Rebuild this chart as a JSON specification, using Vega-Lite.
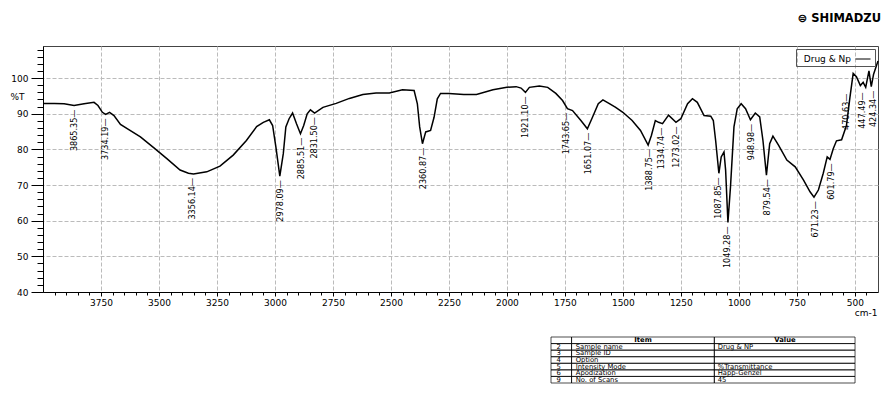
{
  "$schema": "https://vega.github.io/schema/vega-lite/v6.json",
  "background": "white",
  "padding": {"left": 9, "top": 12, "right": 0, "bottom": 0},
  "spacing": 18,
  "config": {
    "axis": {"labelFont": "DejaVu Sans", "labelFontSize": 9, "titleFont": "DejaVu Sans", "labelColor": "black", "domainColor": "black", "tickColor": "black", "titleColor": "black", "labelOverlap": false},
    "view": {"stroke": "#444"}
  },
  "datasets": {
    "spectrum": [
      {"wn": 3998, "T": 92.9}, {"wn": 3951, "T": 92.9}, {"wn": 3909, "T": 92.8}, {"wn": 3866, "T": 92.3},
      {"wn": 3823, "T": 92.8}, {"wn": 3780, "T": 93.2}, {"wn": 3763, "T": 92.3}, {"wn": 3744, "T": 90.4},
      {"wn": 3730, "T": 89.8}, {"wn": 3713, "T": 90.4}, {"wn": 3694, "T": 89.5}, {"wn": 3666, "T": 87.0},
      {"wn": 3637, "T": 85.8}, {"wn": 3580, "T": 83.5}, {"wn": 3523, "T": 80.5}, {"wn": 3466, "T": 77.4},
      {"wn": 3409, "T": 74.2}, {"wn": 3373, "T": 73.3}, {"wn": 3351, "T": 73.1}, {"wn": 3294, "T": 73.7},
      {"wn": 3237, "T": 75.3}, {"wn": 3180, "T": 78.4}, {"wn": 3123, "T": 82.5}, {"wn": 3079, "T": 86.4},
      {"wn": 3050, "T": 87.6}, {"wn": 3024, "T": 88.3}, {"wn": 3010, "T": 86.7}, {"wn": 2996, "T": 80.7},
      {"wn": 2979, "T": 72.5}, {"wn": 2964, "T": 78.8}, {"wn": 2953, "T": 86.3}, {"wn": 2939, "T": 88.6},
      {"wn": 2924, "T": 90.2}, {"wn": 2907, "T": 87.2}, {"wn": 2890, "T": 84.4}, {"wn": 2876, "T": 86.7},
      {"wn": 2861, "T": 90.0}, {"wn": 2847, "T": 91.1}, {"wn": 2829, "T": 90.2}, {"wn": 2793, "T": 91.8},
      {"wn": 2736, "T": 92.9}, {"wn": 2679, "T": 94.3}, {"wn": 2621, "T": 95.4}, {"wn": 2564, "T": 95.8},
      {"wn": 2507, "T": 95.8}, {"wn": 2450, "T": 96.7}, {"wn": 2400, "T": 96.5}, {"wn": 2386, "T": 92.8},
      {"wn": 2376, "T": 86.3}, {"wn": 2364, "T": 81.6}, {"wn": 2350, "T": 84.9}, {"wn": 2329, "T": 85.3},
      {"wn": 2314, "T": 89.0}, {"wn": 2300, "T": 94.2}, {"wn": 2286, "T": 95.7}, {"wn": 2250, "T": 95.7},
      {"wn": 2186, "T": 95.4}, {"wn": 2131, "T": 95.4}, {"wn": 2060, "T": 96.7}, {"wn": 2000, "T": 97.4},
      {"wn": 1960, "T": 97.6}, {"wn": 1939, "T": 97.2}, {"wn": 1920, "T": 96.0}, {"wn": 1903, "T": 97.4},
      {"wn": 1860, "T": 97.8}, {"wn": 1824, "T": 97.4}, {"wn": 1789, "T": 95.7}, {"wn": 1760, "T": 93.7},
      {"wn": 1739, "T": 91.4}, {"wn": 1717, "T": 90.9}, {"wn": 1681, "T": 88.1}, {"wn": 1653, "T": 85.8},
      {"wn": 1631, "T": 89.0}, {"wn": 1606, "T": 92.8}, {"wn": 1586, "T": 93.9}, {"wn": 1560, "T": 92.9},
      {"wn": 1531, "T": 91.8}, {"wn": 1500, "T": 90.4}, {"wn": 1460, "T": 88.1}, {"wn": 1424, "T": 85.3},
      {"wn": 1391, "T": 81.2}, {"wn": 1377, "T": 83.9}, {"wn": 1360, "T": 88.1}, {"wn": 1346, "T": 87.6},
      {"wn": 1329, "T": 87.2}, {"wn": 1303, "T": 89.6}, {"wn": 1271, "T": 87.6}, {"wn": 1250, "T": 88.6},
      {"wn": 1221, "T": 92.8}, {"wn": 1200, "T": 94.2}, {"wn": 1179, "T": 93.2}, {"wn": 1150, "T": 89.5},
      {"wn": 1121, "T": 89.3}, {"wn": 1110, "T": 88.1}, {"wn": 1100, "T": 82.5}, {"wn": 1086, "T": 73.3},
      {"wn": 1076, "T": 77.9}, {"wn": 1064, "T": 79.3}, {"wn": 1057, "T": 74.2}, {"wn": 1047, "T": 59.5},
      {"wn": 1036, "T": 69.5}, {"wn": 1021, "T": 86.3}, {"wn": 1007, "T": 91.4}, {"wn": 990, "T": 92.8},
      {"wn": 971, "T": 91.4}, {"wn": 950, "T": 88.3}, {"wn": 929, "T": 90.2}, {"wn": 910, "T": 89.1},
      {"wn": 896, "T": 82.5}, {"wn": 881, "T": 72.8}, {"wn": 867, "T": 81.6}, {"wn": 853, "T": 83.7},
      {"wn": 829, "T": 81.2}, {"wn": 793, "T": 77.0}, {"wn": 757, "T": 75.1}, {"wn": 721, "T": 71.4},
      {"wn": 693, "T": 68.1}, {"wn": 676, "T": 66.6}, {"wn": 657, "T": 68.6}, {"wn": 636, "T": 73.3},
      {"wn": 619, "T": 77.9}, {"wn": 607, "T": 77.2}, {"wn": 593, "T": 80.2}, {"wn": 579, "T": 82.4},
      {"wn": 557, "T": 82.7}, {"wn": 536, "T": 86.7}, {"wn": 521, "T": 94.6}, {"wn": 507, "T": 101.3},
      {"wn": 493, "T": 100.4}, {"wn": 476, "T": 97.9}, {"wn": 464, "T": 98.8}, {"wn": 453, "T": 97.4},
      {"wn": 439, "T": 102.0}, {"wn": 429, "T": 97.6}, {"wn": 419, "T": 101.1}, {"wn": 400, "T": 104.8}
    ],
    "peaks": [
      {"wn": 3865.35, "T": 92.3}, {"wn": 3734.19, "T": 89.8}, {"wn": 3356.14, "T": 73.1},
      {"wn": 2978.09, "T": 72.5}, {"wn": 2885.51, "T": 84.4}, {"wn": 2831.50, "T": 90.2},
      {"wn": 2360.87, "T": 81.6}, {"wn": 1921.10, "T": 96.0}, {"wn": 1743.65, "T": 91.4},
      {"wn": 1651.07, "T": 85.8}, {"wn": 1388.75, "T": 81.2}, {"wn": 1334.74, "T": 87.2},
      {"wn": 1273.02, "T": 87.6}, {"wn": 1087.85, "T": 73.3}, {"wn": 1049.28, "T": 59.5},
      {"wn": 948.98, "T": 88.3}, {"wn": 879.54, "T": 72.8}, {"wn": 671.23, "T": 66.6},
      {"wn": 601.79, "T": 77.2}, {"wn": 470.63, "T": 97.9}, {"wn": 447.49, "T": 97.4},
      {"wn": 424.34, "T": 97.6}
    ],
    "table": [
      {"n": "", "item": "Item", "value": "Value"},
      {"n": "2", "item": "Sample name", "value": "Drug & NP"},
      {"n": "3", "item": "Sample ID", "value": ""},
      {"n": "4", "item": "Option", "value": ""},
      {"n": "5", "item": "Intensity Mode", "value": "%Transmittance"},
      {"n": "6", "item": "Apodization", "value": "Happ-Genzel"},
      {"n": "9", "item": "No. of Scans", "value": "45"}
    ]
  },
  "vconcat": [
    {
      "width": 835,
      "height": 246,
      "title": {"text": "⊜ SHIMADZU", "anchor": "end", "fontSize": 11.5, "fontWeight": "bold", "font": "DejaVu Sans", "offset": 22, "color": "black"},
      "resolve": {"axis": {"x": "independent", "y": "independent"}},
      "layer": [
        {
          "data": {"name": "spectrum"},
          "mark": {"type": "line", "color": "black", "strokeWidth": 1.5},
          "encoding": {
            "x": {
              "field": "wn", "type": "quantitative",
              "scale": {"domain": [400, 4000], "reverse": true, "nice": false, "zero": false},
              "axis": {
                "orient": "bottom",
                "values": [500,750,1000,1250,1500,1750,2000,2250,2500,2750,3000,3250,3500,3750],
                "format": "d",
                "tickSize": 4,
                "labelPadding": 2,
                "grid": true,
                "gridDash": [4, 2],
                "gridColor": "#bbbbbb",
                "title": "cm-1",
                "titleFontSize": 9,
                "titleFontWeight": "normal",
                "titleX": 834,
                "titleY": 20,
                "titleAlign": "right",
                "titleBaseline": "middle"
              }
            },
            "y": {
              "field": "T", "type": "quantitative",
              "scale": {"domain": [40, 109], "nice": false, "zero": false},
              "axis": {
                "orient": "left",
                "values": [40,50,60,70,80,90,100],
                "tickSize": 12,
                "labelPadding": 3,
                "grid": true,
                "gridDash": [4, 2],
                "gridColor": "#bbbbbb",
                "title": "%T",
                "titleAngle": 0,
                "titleX": -33,
                "titleY": 50,
                "titleAlign": "left",
                "titleBaseline": "middle",
                "titleFontSize": 9,
                "titleFontWeight": "normal"
              }
            },
            "color": {
              "datum": "Drug & Np",
              "scale": {"range": ["black"]},
              "legend": {
                "title": null, "orient": "top-right", "offset": 3,
                "symbolType": "stroke", "symbolSize": 225, "symbolStrokeWidth": 1,
                "symbolOffset": 57, "labelOffset": -20, "labelAlign": "right",
                "labelFont": "DejaVu Sans", "labelFontSize": 9, "labelColor": "black",
                "strokeColor": "#555", "padding": 2
              }
            }
          }
        },
        {
          "mark": {"type": "rule", "color": "black", "strokeWidth": 1},
          "encoding": {
            "x": {
              "datum": 2000, "type": "quantitative",
              "axis": {
                "orient": "bottom",
                "values": [450,550,600,650,700,800,850,900,950,1050,1100,1150,1200,1300,1350,1400,1450,1550,1600,1650,1700,1800,1850,1900,1950,2050,2100,2150,2200,2300,2350,2400,2450,2550,2600,2650,2700,2800,2850,2900,2950,3050,3100,3150,3200,3300,3350,3400,3450,3550,3600,3650,3700,3800,3850,3900,3950],
                "labels": false, "grid": false, "domain": false, "tickSize": 3, "title": null
              }
            }
          }
        },
        {
          "data": {"name": "peaks"},
          "transform": [{"filter": "datum.wn > 500"}, {"calculate": "format(datum.wn, '.2f') + '—'", "as": "lab"}],
          "mark": {"type": "text", "angle": 270, "align": "right", "baseline": "middle", "dx": -4, "font": "Liberation Sans Narrow, DejaVu Sans Condensed", "fontSize": 9, "color": "black"},
          "encoding": {
            "x": {"field": "wn", "type": "quantitative", "axis": null},
            "y": {
              "field": "T", "type": "quantitative",
              "axis": {
                "orient": "left",
                "values": [42,44,46,48,52,54,56,58,62,64,66,68,72,74,76,78,82,84,86,88,92,94,96,98,102,104,106,108],
                "labels": false, "grid": false, "domain": false, "tickSize": 6, "title": null
              }
            },
            "text": {"field": "lab"}
          }
        },
        {
          "data": {"name": "peaks"},
          "transform": [{"filter": "datum.wn > 460 && datum.wn < 500"}, {"calculate": "format(datum.wn, '.2f') + '—'", "as": "lab"}],
          "mark": {"type": "text", "angle": 270, "align": "right", "baseline": "middle", "dx": -8, "dy": -16, "font": "Liberation Sans Narrow, DejaVu Sans Condensed", "fontSize": 9, "color": "black"},
          "encoding": {"x": {"field": "wn", "type": "quantitative", "axis": null}, "y": {"field": "T", "type": "quantitative", "axis": null}, "text": {"field": "lab"}}
        },
        {
          "data": {"name": "peaks"},
          "transform": [{"filter": "datum.wn > 440 && datum.wn < 460"}, {"calculate": "format(datum.wn, '.2f') + '—'", "as": "lab"}],
          "mark": {"type": "text", "angle": 270, "align": "right", "baseline": "middle", "dx": -5, "dy": -5, "font": "Liberation Sans Narrow, DejaVu Sans Condensed", "fontSize": 9, "color": "black"},
          "encoding": {"x": {"field": "wn", "type": "quantitative", "axis": null}, "y": {"field": "T", "type": "quantitative", "axis": null}, "text": {"field": "lab"}}
        },
        {
          "data": {"name": "peaks"},
          "transform": [{"filter": "datum.wn < 440"}, {"calculate": "format(datum.wn, '.2f') + '—'", "as": "lab"}],
          "mark": {"type": "text", "angle": 270, "align": "right", "baseline": "middle", "dx": -4, "dy": 1, "font": "Liberation Sans Narrow, DejaVu Sans Condensed", "fontSize": 9, "color": "black"},
          "encoding": {"x": {"field": "wn", "type": "quantitative", "axis": null}, "y": {"field": "T", "type": "quantitative", "axis": null}, "text": {"field": "lab"}}
        }
      ]
    },
    {
      "width": 835,
      "height": 46,
      "view": {"stroke": null},
      "data": {"name": "table"},
      "encoding": {
        "y": {"field": "item", "type": "nominal", "sort": null, "scale": {"paddingInner": 0, "paddingOuter": 0}, "axis": null}
      },
      "layer": [
        {
          "mark": {"type": "rect", "fill": null, "fillOpacity": 0, "stroke": "black", "strokeWidth": 0.7},
          "encoding": {"x": {"datum": 60.84, "type": "quantitative", "scale": {"domain": [0, 100], "nice": false, "zero": false}, "axis": null}, "x2": {"datum": 63.3}}
        },
        {
          "mark": {"type": "rect", "fill": null, "fillOpacity": 0, "stroke": "black", "strokeWidth": 0.7},
          "encoding": {"x": {"datum": 63.3, "type": "quantitative"}, "x2": {"datum": 80.4}}
        },
        {
          "mark": {"type": "rect", "fill": null, "fillOpacity": 0, "stroke": "black", "strokeWidth": 0.7},
          "encoding": {"x": {"datum": 80.4, "type": "quantitative"}, "x2": {"datum": 97.25}}
        },
        {
          "transform": [{"filter": "datum.item != 'Item'"}],
          "mark": {"type": "text", "align": "left", "baseline": "middle", "font": "DejaVu Sans", "fontSize": 6.8, "color": "black"},
          "encoding": {"x": {"datum": 61.5, "type": "quantitative"}, "text": {"field": "n"}}
        },
        {
          "transform": [{"filter": "datum.item != 'Item'"}],
          "mark": {"type": "text", "align": "left", "baseline": "middle", "font": "DejaVu Sans", "fontSize": 6.8, "color": "black"},
          "encoding": {"x": {"datum": 63.8, "type": "quantitative"}, "text": {"field": "item"}}
        },
        {
          "transform": [{"filter": "datum.item != 'Item'"}],
          "mark": {"type": "text", "align": "left", "baseline": "middle", "font": "DejaVu Sans", "fontSize": 6.8, "color": "black"},
          "encoding": {"x": {"datum": 80.8, "type": "quantitative"}, "text": {"field": "value"}}
        },
        {
          "transform": [{"filter": "datum.item == 'Item'"}],
          "mark": {"type": "text", "align": "center", "baseline": "middle", "font": "DejaVu Sans", "fontSize": 6.8, "fontWeight": "bold", "color": "black"},
          "encoding": {"x": {"datum": 71.86, "type": "quantitative"}, "text": {"field": "item"}}
        },
        {
          "transform": [{"filter": "datum.item == 'Item'"}],
          "mark": {"type": "text", "align": "center", "baseline": "middle", "font": "DejaVu Sans", "fontSize": 6.8, "fontWeight": "bold", "color": "black"},
          "encoding": {"x": {"datum": 88.86, "type": "quantitative"}, "text": {"field": "value"}}
        }
      ]
    }
  ]
}
